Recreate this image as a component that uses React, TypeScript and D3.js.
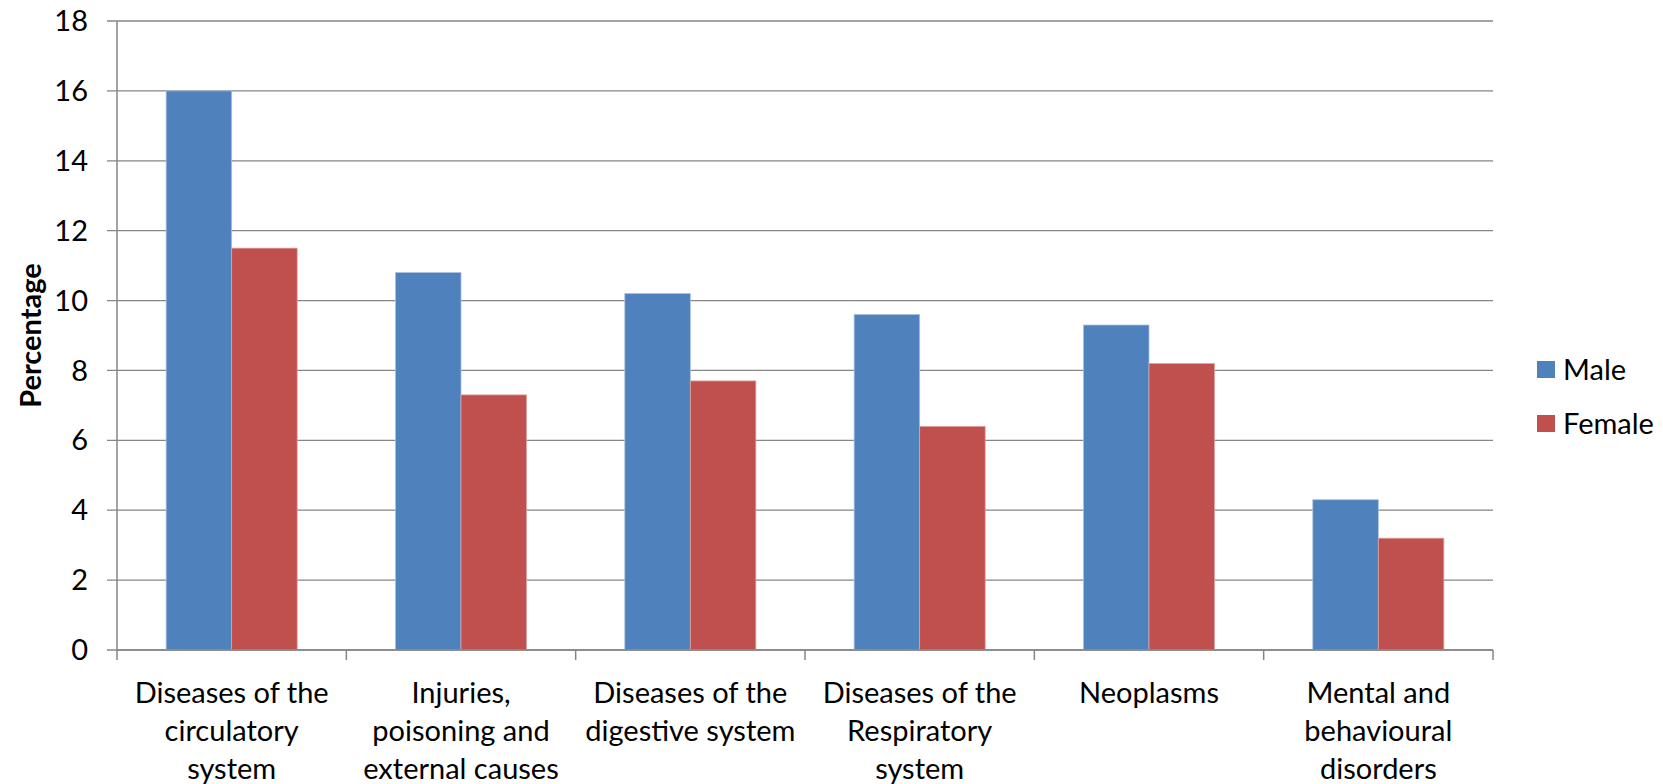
import { useEffect, useRef } from "react";
import * as d3 from "d3";

const categories: string[][] = [
  ["Diseases of the", "circulatory", "system"],
  ["Injuries,", "poisoning and", "external causes"],
  ["Diseases of the", "digestive system"],
  ["Diseases of the", "Respiratory", "system"],
  ["Neoplasms"],
  ["Mental and", "behavioural", "disorders"],
];
const maleValues = [16, 10.8, 10.2, 9.6, 9.3, 4.3];
const femaleValues = [11.5, 7.3, 7.7, 6.4, 8.2, 3.2];
const yTicks = [0, 2, 4, 6, 8, 10, 12, 14, 16, 18];
const seriesNames = ["Male", "Female"];
const seriesColors = ["#4F81BD", "#C0504D"];

const W = 1663;
const H = 784;
const FONT = "Lato, 'Open Sans', sans-serif";

const App = (): JSX.Element => {
  const svgRef = useRef<SVGSVGElement | null>(null);

  useEffect(() => {
    if (!svgRef.current) return;
    const svg = d3.select(svgRef.current);
    svg.selectAll("*").remove();

    const left = 117;
    const right = 1493;
    const top = 21;
    const bottom = 650;
    const gridColor = "#868686";

    const keys = categories.map((_, i) => String(i));
    const x0 = d3.scaleBand<string>().domain(keys).range([left, right]).paddingInner(0).paddingOuter(0);
    // gap width 150% of a bar
    const barW = x0.bandwidth() / 3.5;
    const y = d3.scaleLinear().domain([0, 18]).range([bottom, top]);

    // gridlines
    svg
      .append("g")
      .selectAll("line")
      .data(yTicks)
      .enter()
      .append("line")
      .attr("x1", left - 10)
      .attr("x2", right)
      .attr("y1", (d) => y(d))
      .attr("y2", (d) => y(d))
      .attr("stroke", gridColor)
      .attr("stroke-width", 1.3);

    // y tick labels
    svg
      .append("g")
      .selectAll("text")
      .data(yTicks)
      .enter()
      .append("text")
      .attr("x", 88)
      .attr("y", (d) => y(d))
      .attr("dy", "0.35em")
      .attr("text-anchor", "end")
      .attr("font-family", FONT)
      .attr("font-size", 29)
      .attr("fill", "#000")
      .text((d) => d);

    // bars
    const series = [maleValues, femaleValues];
    series.forEach((vals, si) => {
      svg
        .append("g")
        .selectAll("rect")
        .data(vals)
        .enter()
        .append("rect")
        .attr("x", (_, i) => (x0(keys[i]) || 0) + barW * 0.75 + si * barW)
        .attr("y", (d) => y(d))
        .attr("width", barW)
        .attr("height", (d) => bottom - y(d))
        .attr("fill", seriesColors[si])
        .attr("stroke", si === 0 ? "#A7C0DE" : "#DDA3A2")
        .attr("stroke-width", 0.8);
    });

    // axes
    svg
      .append("line")
      .attr("x1", left)
      .attr("x2", left)
      .attr("y1", top)
      .attr("y2", bottom + 10)
      .attr("stroke", gridColor)
      .attr("stroke-width", 1.5);
    svg
      .append("line")
      .attr("x1", left)
      .attr("x2", right)
      .attr("y1", bottom)
      .attr("y2", bottom)
      .attr("stroke", gridColor)
      .attr("stroke-width", 1.5);
    svg
      .append("g")
      .selectAll("line")
      .data(keys.slice(1).concat(["end"]))
      .enter()
      .append("line")
      .attr("x1", (d) => (d === "end" ? right : x0(d) || 0))
      .attr("x2", (d) => (d === "end" ? right : x0(d) || 0))
      .attr("y1", bottom)
      .attr("y2", bottom + 10)
      .attr("stroke", gridColor)
      .attr("stroke-width", 1.5);

    // x labels
    const lab = svg
      .append("g")
      .selectAll("text")
      .data(categories)
      .enter()
      .append("text")
      .attr("text-anchor", "middle")
      .attr("font-family", FONT)
      .attr("font-size", 29)
      .attr("fill", "#000");
    lab
      .selectAll("tspan")
      .data((d, i) => d.map((line) => ({ line, i })))
      .enter()
      .append("tspan")
      .attr("x", (d) => (x0(keys[d.i]) || 0) + x0.bandwidth() / 2)
      .attr("y", (_, j) => 703 + j * 38)
      .text((d) => d.line);

    // y title
    svg
      .append("text")
      .attr("transform", `translate(41,${(top + bottom) / 2}) rotate(-90)`)
      .attr("text-anchor", "middle")
      .attr("font-family", FONT)
      .attr("font-size", 29)
      .attr("font-weight", "bold")
      .attr("fill", "#000")
      .text("Percentage");

    // legend
    const leg = svg
      .append("g")
      .selectAll("g")
      .data(seriesNames)
      .enter()
      .append("g")
      .attr("transform", (_, i) => `translate(1537,${361 + i * 54})`);
    leg
      .append("rect")
      .attr("width", 18)
      .attr("height", 17)
      .attr("fill", (_, i) => seriesColors[i]);
    leg
      .append("text")
      .attr("x", 26)
      .attr("y", 9)
      .attr("dy", "0.35em")
      .attr("font-family", FONT)
      .attr("font-size", 29)
      .attr("fill", "#000")
      .text((d) => d);
  }, []);

  return (
    <svg
      ref={svgRef}
      width={W}
      height={H}
      style={{ position: "fixed", left: 0, top: 0, display: "block", background: "#fff" }}
    />
  );
};

export default App;
